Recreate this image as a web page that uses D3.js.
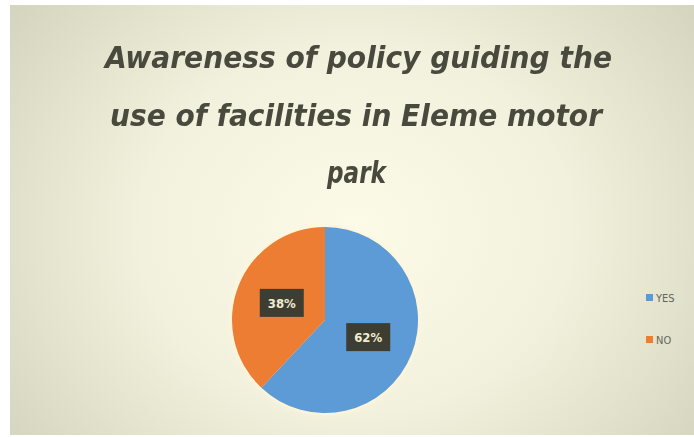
<!DOCTYPE html>
<html>
<head>
<meta charset="utf-8">
<script src="https://cdn.jsdelivr.net/npm/d3@7"></script>
<style>
  html, body { margin: 0; padding: 0; background: #ffffff; }
  svg { display: block; }
</style>
</head>
<body>
<svg id="chart" width="694" height="437"></svg>
<script>
const titleLines = ["Awareness of policy guiding the", "use of facilities in Eleme motor", "park"];
const categories = ["YES", "NO"];
const values = [62, 38];
const colors = ["#5b9bd5", "#ed7d31"];

const W = 694, H = 437;
const svg = d3.select("#chart");

const defs = svg.append("defs");
const grad = defs.append("radialGradient")
  .attr("id", "bg").attr("gradientUnits", "userSpaceOnUse")
  .attr("cx", 355).attr("cy", 230).attr("r", 430)
  .attr("gradientTransform", "translate(355,230) scale(1,0.85) translate(-355,-230)");
grad.append("stop").attr("offset", "0%").attr("stop-color", "#fcfbe8");
grad.append("stop").attr("offset", "50%").attr("stop-color", "#f2f1dd");
grad.append("stop").attr("offset", "100%").attr("stop-color", "#d5d5bf");

const blur = defs.append("filter").attr("id", "soft").attr("x", "-10%").attr("y", "-10%").attr("width", "120%").attr("height", "120%");
blur.append("feGaussianBlur").attr("stdDeviation", 0.7);

const glow = defs.append("filter").attr("id", "glow").attr("x", "-20%").attr("y", "-20%").attr("width", "140%").attr("height", "140%");
glow.append("feGaussianBlur").attr("in", "SourceGraphic").attr("stdDeviation", 3).attr("result", "b");
glow.append("feMerge").selectAll("feMergeNode").data(["b", "SourceGraphic"]).join("feMergeNode").attr("in", d => d);

svg.append("rect").attr("x", 10).attr("y", 5).attr("width", W - 10).attr("height", 430).attr("fill", "url(#bg)");

// Title
const titleX = [105, 110, 327];
const titleW = [507, 492, 59];
const titleY = [68, 126, 183];
svg.append("g").attr("filter", "url(#soft)")
  .selectAll("text").data(titleLines).join("text")
  .attr("x", (d, i) => titleX[i])
  .attr("y", (d, i) => titleY[i])
  .attr("textLength", (d, i) => titleW[i])
  .attr("lengthAdjust", "spacingAndGlyphs")
  .attr("font-family", "'DejaVu Sans Condensed', 'DejaVu Sans', sans-serif")
  .attr("font-weight", "bold")
  .attr("font-style", "italic")
  .attr("font-size", 30)
  .attr("fill", "#4a493e")
  .text(d => d);

// Pie
const cx = 325, cy = 320, r = 93;
const pie = d3.pie().sort(null).value(d => d.v);
const arcs = pie(categories.map((c, i) => ({ c, v: values[i], col: colors[i] })));
const arc = d3.arc().innerRadius(0).outerRadius(r);
const labelArc = d3.arc().innerRadius(r * 0.5).outerRadius(r * 0.5);

const g = svg.append("g").attr("transform", `translate(${cx},${cy})`);
g.append("circle").attr("r", r + 2).attr("fill", "#fff6dc").attr("opacity", 0.8).attr("filter", "url(#glow)");
g.selectAll("path").data(arcs).join("path")
  .attr("d", arc)
  .attr("fill", d => d.data.col)
  .attr("filter", "url(#soft)");

const lab = g.selectAll("g.lab").data(arcs).join("g").attr("class", "lab")
  .attr("transform", d => `translate(${labelArc.centroid(d)})`);
lab.append("rect")
  .attr("x", -22).attr("y", -14).attr("width", 44).attr("height", 28)
  .attr("fill", "#3d3c31")
  .attr("filter", "url(#soft)");
lab.append("text")
  .attr("text-anchor", "middle").attr("y", 5)
  .attr("font-family", "'DejaVu Sans Condensed', 'DejaVu Sans', sans-serif")
  .attr("font-weight", "bold")
  .attr("font-size", 13)
  .attr("fill", "#f1edd2")
  .text(d => d.data.v + "%");

// Legend
const legY = [298, 340];
const leg = svg.append("g").selectAll("g").data(categories).join("g")
  .attr("transform", (d, i) => `translate(646,${legY[i]})`);
leg.append("rect").attr("x", 0).attr("y", -4).attr("width", 7).attr("height", 7)
  .attr("fill", (d, i) => colors[i]);
leg.append("text").attr("x", 10).attr("y", 4)
  .attr("font-family", "'DejaVu Sans Condensed', 'DejaVu Sans', sans-serif")
  .attr("font-size", 11)
  .attr("fill", "#66665b")
  .text(d => d);
</script>
</body>
</html>
